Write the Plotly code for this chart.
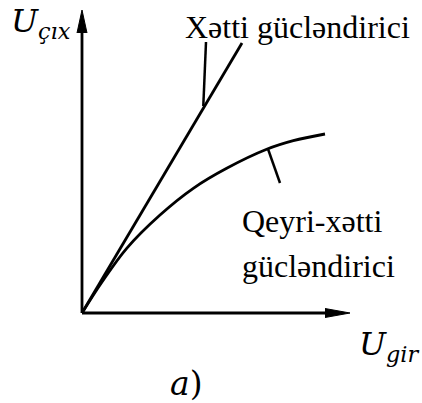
import plotly.graph_objects as go

# Transfer characteristics of two amplifiers (arbitrary units)
u_in_linear = [0.0, 16.0]
u_out_linear = [0.0, 27.0]

u_in_nonlinear = [0.0, 2.0, 4.47, 7.8, 11.13, 14.47, 18.47, 21.13, 24.3]
u_out_nonlinear = [0.0, 3.1, 6.47, 9.8, 12.47, 14.47, 16.37, 17.23, 17.9]

# Axis extents and arrowheads
x_axis_end = 26.8
y_axis_end = 30.3
arrow_len_x = 2.5
arrow_half_x = 0.45
arrow_len_y = 2.3
arrow_half_y = 0.5

# Leader lines pointing at each curve
leader_linear_x = [12.13, 12.4]
leader_linear_y = [20.7, 27.1]
leader_nonlinear_x = [18.6, 19.8]
leader_nonlinear_y = [16.4, 13.0]

label_linear = "Xətti gücləndirici"
label_nonlinear_1 = "Qeyri-xətti"
label_nonlinear_2 = "gücləndirici"
label_y = "U<sub>çıx</sub>"
label_x = "U<sub>gir</sub>"
caption = "a)"

BLACK = "#000000"
LW = 2.8

fig = go.Figure()


def add_line(xs, ys, width=LW, shape="linear"):
    fig.add_trace(go.Scatter(x=xs, y=ys, mode="lines",
                             line=dict(color=BLACK, width=width, shape=shape,
                                       smoothing=1.0),
                             hoverinfo="skip", showlegend=False))


def add_triangle(xs, ys):
    fig.add_trace(go.Scatter(x=xs, y=ys, mode="lines", fill="toself",
                             fillcolor=BLACK, line=dict(color=BLACK, width=1),
                             hoverinfo="skip", showlegend=False))


# axes
add_line([0, x_axis_end - arrow_len_x + 0.3], [0, 0])
add_line([0, 0], [0, y_axis_end - arrow_len_y + 0.3])
add_triangle([x_axis_end - arrow_len_x, x_axis_end, x_axis_end - arrow_len_x],
             [arrow_half_x, 0, -arrow_half_x])
add_triangle([-arrow_half_y, 0, arrow_half_y],
             [y_axis_end - arrow_len_y, y_axis_end, y_axis_end - arrow_len_y])

# characteristics
add_line(u_in_linear, u_out_linear)
add_line(u_in_nonlinear, u_out_nonlinear, shape="spline")

# leaders
add_line(leader_linear_x, leader_linear_y, width=2.5)
add_line(leader_nonlinear_x, leader_nonlinear_y, width=2.5)

serif = "'Liberation Serif', 'Times New Roman', Times, serif"
math = "'DejaVu Serif', serif"


def add_text(x, y, text, family, size, xanchor="left"):
    fig.add_annotation(x=x, y=y, text=text, showarrow=False,
                       xanchor=xanchor, yanchor="middle", align="left",
                       font=dict(family=family, size=size, color=BLACK))


add_text(10.1, 28.6, label_linear, serif, 32)
add_text(15.8, 9.2, label_nonlinear_1, serif, 32)
add_text(15.8, 4.7, label_nonlinear_2, serif, 32)
add_text(-7.3, 29.0, "<i>" + label_y + "</i>", math, 32)
add_text(27.5, -3.3, "<i>" + label_x + "</i>", math, 32)
add_text(10.4, -7.0, "<i>a</i>)", math, 33, xanchor="center")

fig.update_layout(
    width=422, height=403,
    margin=dict(l=0, r=0, t=0, b=0),
    paper_bgcolor="white", plot_bgcolor="white",
    xaxis=dict(range=[-8.2, 34.0], visible=False, fixedrange=True),
    yaxis=dict(range=[-9.0, 31.3], visible=False, fixedrange=True),
    showlegend=False,
)

fig.write_html("out.html")
